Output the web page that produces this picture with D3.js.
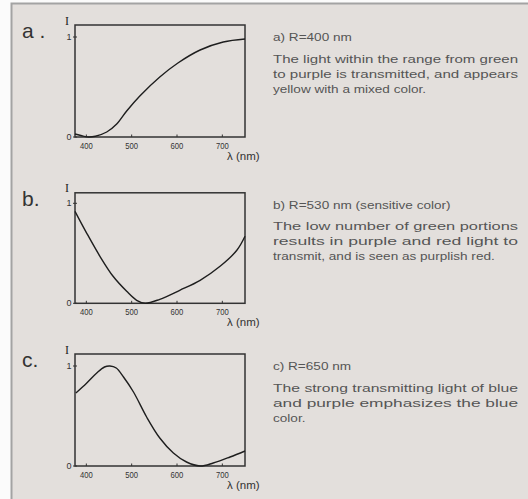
<!DOCTYPE html>
<html>
<head>
<meta charset="utf-8">
<script src="https://cdn.jsdelivr.net/npm/d3@7"></script>
<style>
  body { margin: 0; background: #fbfbfb; }
  svg { display: block; }
  .frame { fill: none; stroke: #333; stroke-width: 1.5; }
  .curve { fill: none; stroke: #1e1e1e; stroke-width: 1.4; }
  .tick { font-family: "Liberation Sans", Arial, sans-serif; font-size: 9px; fill: #333; }
  .desc { font-family: "Liberation Sans", Arial, sans-serif; font-size: 11.5px; fill: #555; }
</style>
</head>
<body>
<div id="chart"></div>
<script>
// panel letters and headings
var letters = ["a .", "b.", "c."];
var headings = ["a) R=400 nm", "b) R=530 nm (sensitive color)", "c) R=650 nm"];
var descriptions = [
    ["The light within the range from green", "to purple is transmitted, and appears", "yellow with a mixed color."],
    ["The low number of green portions", "results in purple and red light to", "transmit, and is seen as purplish red."],
    ["The strong transmitting light of blue", "and purple emphasizes the blue", "color."]
];

var xTicks = [400, 500, 600, 700];
var yTicks = [0, 1];

// wavelength (nm) and relative intensity I
var waveA = [375, 390, 405, 420, 445, 467, 489, 518, 562, 602, 651, 702, 750];
var intA  = [0.03, 0.012, 0.0, 0.008, 0.05, 0.13, 0.26, 0.41, 0.60, 0.74, 0.87, 0.95, 0.98];

var waveB = [375, 401, 430, 459, 489, 511, 530, 562, 606, 651, 695, 732, 750];
var intB  = [0.92, 0.70, 0.47, 0.27, 0.12, 0.03, 0.0, 0.04, 0.13, 0.23, 0.37, 0.53, 0.67];

var waveC = [377, 401, 423, 440, 452, 466, 482, 504, 533, 562, 592, 621, 651, 680, 717, 750];
var intC  = [0.73, 0.83, 0.93, 0.99, 1.0, 0.98, 0.89, 0.74, 0.49, 0.28, 0.13, 0.04, 0.0, 0.03, 0.09, 0.15];

var waves = [waveA, waveB, waveC];
var ints = [intA, intB, intC];

var width = 528, height = 499;
var bottoms = [137, 303.3, 466];   // pixel y of I=0 for each panel
var tops = [1.12, 1.105, 1.12];    // I value at frame top

var svg = d3.select("#chart")
    .append("svg")
    .attr("width", width)
    .attr("height", height)

// outer panel
svg.append("rect")
    .attr("x", 11.5)
    .attr("y", 3.5)
    .attr("width", width)
    .attr("height", height)
    .attr("fill", "#e3dfdc")
    .attr("stroke", "#a3a3a3")
    .attr("stroke-width", 2)

var x = d3.scaleLinear()
    .domain([375, 750])
    .range([75, 245])

var line = d3.line()
    .x(d => x(d[0]))
    .y(d => d[1])
    .curve(d3.curveCatmullRom)

// squeeze a label horizontally
function squeeze(sel, k) {
    sel.each(function() {
        var w = this.getComputedTextLength();
        d3.select(this).attr("textLength", w * k).attr("lengthAdjust", "spacingAndGlyphs")
    })
}

letters.forEach(function(letter, i) {
    var y = d3.scaleLinear()
        .domain([0, 1])
        .range([bottoms[i], bottoms[i] - 100])

    var g = svg.append("g")

    // frame
    g.append("rect")
        .attr("class", "frame")
        .attr("x", x.range()[0])
        .attr("y", y(tops[i]))
        .attr("width", x.range()[1] - x.range()[0])
        .attr("height", y(0) - y(tops[i]))

    // bottom ticks, pointing inward
    g.selectAll("xtick")
        .data(xTicks)
        .enter()
        .append("line")
        .attr("x1", d => x(d))
        .attr("x2", d => x(d))
        .attr("y1", y(0))
        .attr("y2", y(0) - 2.5)
        .attr("stroke", "#333")
        .attr("stroke-width", 1)

    g.selectAll("xlabel")
        .data(xTicks)
        .enter()
        .append("text")
        .attr("class", "tick")
        .attr("x", d => x(d))
        .attr("y", y(0) + 12)
        .attr("text-anchor", "middle")
        .text(d => d)
        .call(squeeze, 0.85)

    g.selectAll("ytick")
        .data(yTicks)
        .enter()
        .append("line")
        .attr("x1", x.range()[0] - 2)
        .attr("x2", x.range()[0] + 2)
        .attr("y1", d => y(d))
        .attr("y2", d => y(d))
        .attr("stroke", "#333")
        .attr("stroke-width", 1)

    g.selectAll("ylabel")
        .data(yTicks)
        .enter()
        .append("text")
        .attr("class", "tick")
        .attr("x", x.range()[0] - 3.5)
        .attr("y", d => y(d) + 3)
        .attr("text-anchor", "end")
        .attr("font-size", d => d ? "7px" : "9px")
        .text(d => d)

    // axis names
    g.append("text")
        .attr("x", 67)
        .attr("y", y(tops[i]) - 0.5)
        .attr("text-anchor", "middle")
        .attr("font-family", "'Liberation Serif', serif")
        .attr("font-size", "12px")
        .attr("fill", "#222")
        .text("I")

    g.append("text")
        .attr("x", 227)
        .attr("y", y(0) + 23)
        .attr("font-family", "'Liberation Sans', Arial, sans-serif")
        .attr("font-size", "11.5px")
        .attr("fill", "#333")
        .text("λ (nm)")

    // curve
    g.append("path")
        .datum(d3.zip(waves[i], ints[i].map(v => y(v))))
        .attr("class", "curve")
        .attr("d", line)

    // panel letter
    g.append("text")
        .attr("x", 22)
        .attr("y", y(tops[i]) + 13)
        .attr("font-family", "'Liberation Sans', Arial, sans-serif")
        .attr("font-size", "21px")
        .attr("fill", "#333")
        .text(letter)

    // description
    var top = y(tops[i])
    g.append("text")
        .attr("class", "desc")
        .attr("x", 273)
        .attr("y", top + 16)
        .text(headings[i])
        .call(squeeze, 1.18)

    var lines = descriptions[i]
    g.selectAll("desc")
        .data(lines)
        .enter()
        .append("text")
        .attr("class", "desc")
        .attr("x", 273)
        .attr("y", (d, j) => top + 37.5 + j * 15)
        .text(d => d)
        .each(function(d, j) {
            var w = this.getComputedTextLength();
            var target = (j < lines.length - 1) ? 245 : Math.min(245, w * 1.18);
            d3.select(this).attr("textLength", target).attr("lengthAdjust", "spacingAndGlyphs")
        })
})
</script>
</body>
</html>
